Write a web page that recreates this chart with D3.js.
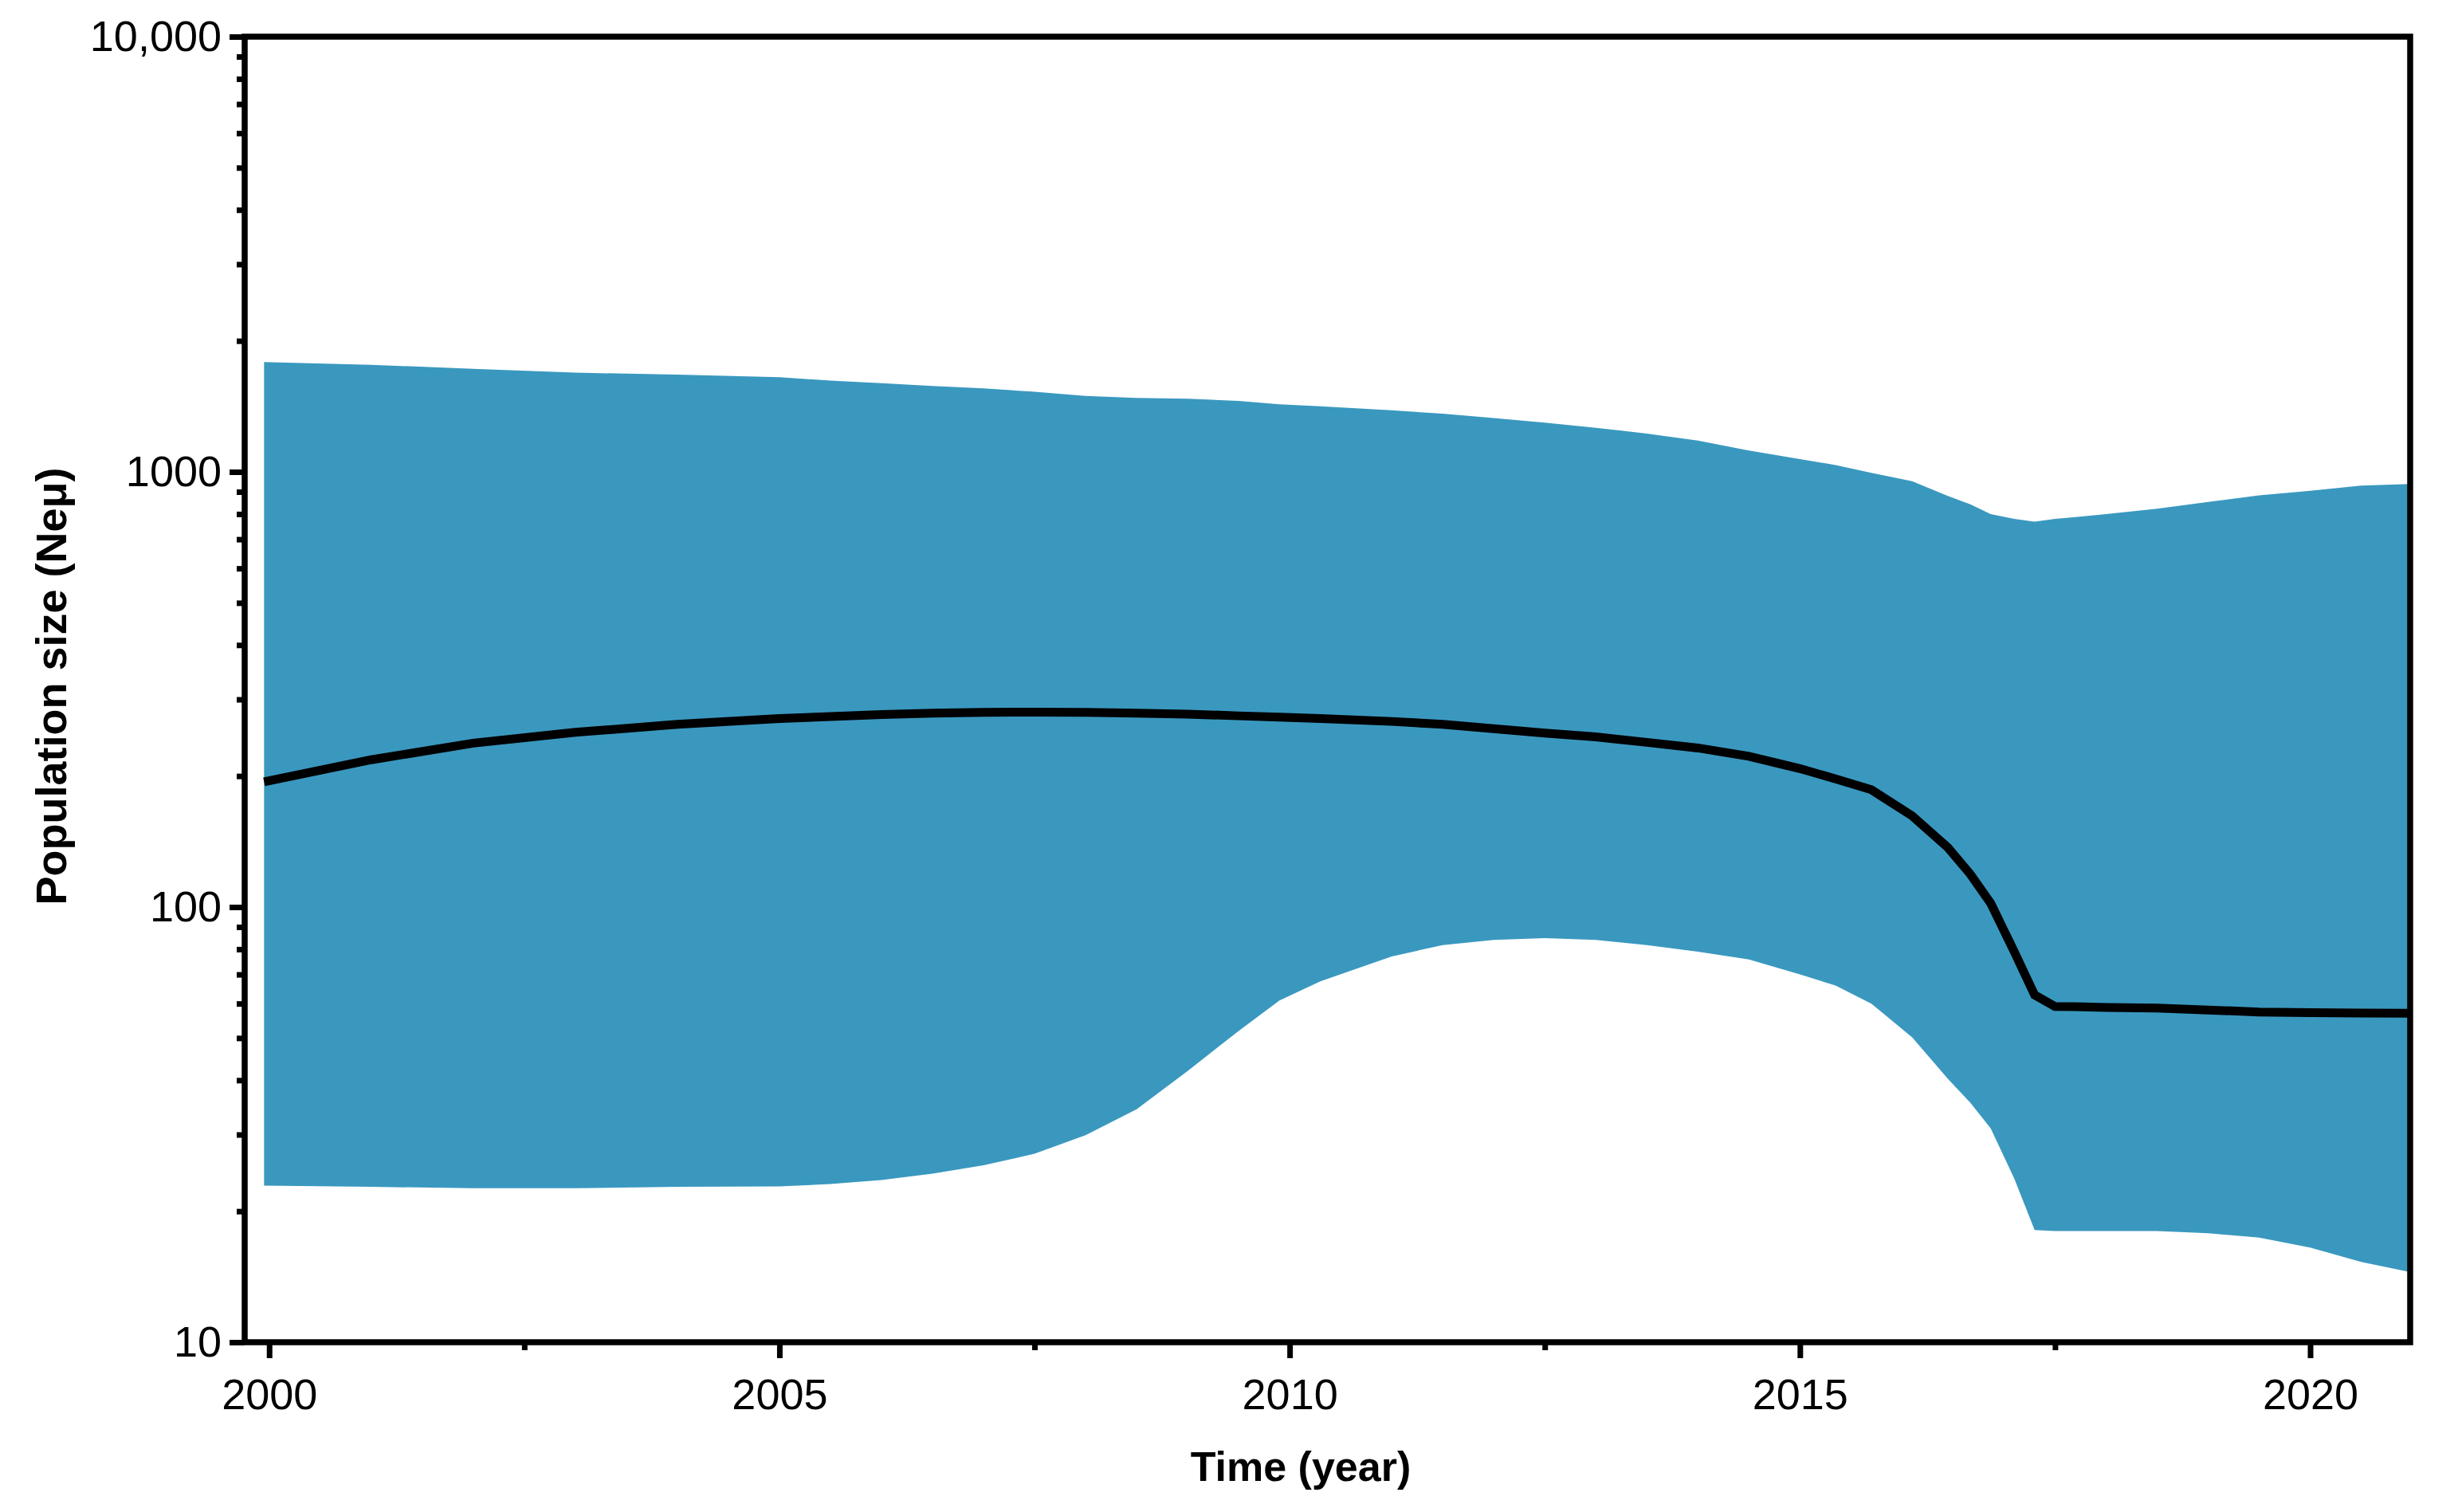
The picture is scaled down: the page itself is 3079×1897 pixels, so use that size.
<!DOCTYPE html>
<html>
<head>
<meta charset="utf-8">
<script src="https://cdn.jsdelivr.net/npm/d3@7"></script>
<style>
  html, body { margin: 0; padding: 0; background: #fff; }
  text { font-family: "Liberation Sans", Arial, sans-serif; fill: #000; }
</style>
</head>
<body>
<svg id="chart" width="3079" height="1897"></svg>
<script>
'use strict';

// time points (year) shared by every series
var years = [1999.95, 2001, 2002, 2003, 2004, 2005, 2005.5, 2006, 2006.5, 2007, 2007.5,
  2008, 2008.5, 2009, 2009.5, 2009.9, 2010.3, 2011, 2011.5, 2012, 2012.5, 2013, 2013.5,
  2014, 2014.5, 2015, 2015.35, 2015.7, 2016.1, 2016.45, 2016.67, 2016.87, 2017.1, 2017.3,
  2017.5, 2017.7, 2018, 2018.5, 2019, 2019.5, 2020, 2020.5, 2020.98];

// upper 95% HPD
var upper = [1787, 1762, 1725, 1690, 1672, 1650, 1620, 1598, 1575, 1555, 1527,
  1495, 1478, 1472, 1455, 1430, 1415, 1385, 1360, 1330, 1298, 1262, 1225,
  1180, 1120, 1070, 1037, 995, 952, 880, 842, 800, 780, 768,
  780, 787, 800, 823, 853, 883, 905, 930, 938];

// median
var median = [194, 218, 238, 252, 263, 271, 274, 277, 279, 280, 280.5,
  280, 279, 277.5, 275, 273, 271, 267, 263, 257, 251, 246, 239,
  232, 222, 208, 197, 186, 162, 137, 119, 102, 79, 62.8,
  59.1, 59.0, 58.8, 58.6, 58.0, 57.4, 57.2, 57.1, 57.0];

// lower 95% HPD
var lower = [22.9, 22.75, 22.6, 22.6, 22.75, 22.8, 23.1, 23.6, 24.4, 25.5, 27.1,
  29.9, 34.3, 42.0, 51.9, 61.0, 67.5, 77, 81.8, 84, 84.8, 84, 81.8,
  79, 75.8, 70, 66, 60, 50.2, 40.3, 35.5, 31.0, 23.8, 18.1,
  18.0, 18.0, 18.0, 18.0, 17.8, 17.4, 16.5, 15.3, 14.5];

var xMajorTicks = [2000, 2005, 2010, 2015, 2020],
    xMinorTicks = [2002.5, 2007.5, 2012.5, 2017.5],
    yMajorTicks = [10, 100, 1000, 10000],
    yTickLabels = ['10', '100', '1000', '10,000'];

var margin = { top: 46, right: 55, bottom: 213, left: 307 },
    width = 3079 - margin.left - margin.right,
    height = 1897 - margin.top - margin.bottom,
    bandColor = '#3a98bf',
    axisWidth = 7.5;

var svg = d3.select('#chart'),
    g = svg.append('g').attr('transform', 'translate(' + margin.left + ',' + margin.top + ')');

var x = d3.scaleLinear().domain([1999.76, 2020.98]).range([0, width]),
    y = d3.scaleLog().domain([10, 10000]).range([height, 0]);

var rows = years.map(function (d, i) {
  return { year: d, upper: upper[i], median: median[i], lower: lower[i] };
});

// minor log ticks 2..9 of each decade
var yMinorTicks = [];
yMajorTicks.slice(0, -1).forEach(function (d) {
  for (var k = 2; k < 10; k++) { yMinorTicks.push(d * k); }
});

var area = d3.area()
  .x(function (d) { return x(d.year); })
  .y0(function (d) { return y(d.lower); })
  .y1(function (d) { return y(d.upper); });

var line = d3.line()
  .x(function (d) { return x(d.year); })
  .y(function (d) { return y(d.median); });

g.append('path').datum(rows).attr('d', area).attr('fill', bandColor);

g.append('path').datum(rows).attr('d', line)
  .attr('fill', 'none').attr('stroke', '#000').attr('stroke-width', 11);

// axes
function styleAxis(sel) {
  sel.select('.domain').remove();
  sel.selectAll('.tick line').attr('stroke', '#000').attr('stroke-width', 7);
  sel.selectAll('.tick text').style('font-size', '54px');
}

g.append('g')
  .attr('transform', 'translate(0,' + height + ')')
  .call(d3.axisBottom(x).tickValues(xMinorTicks).tickSize(10).tickFormat(''))
  .call(styleAxis);

var xAxis = g.append('g')
  .attr('transform', 'translate(0,' + height + ')')
  .call(d3.axisBottom(x).tickValues(xMajorTicks).tickSize(20).tickFormat(d3.format('d')))
  .call(styleAxis);
xAxis.selectAll('.tick text').attr('y', 46);

g.append('g')
  .call(d3.axisLeft(y).tickValues(yMinorTicks).tickSize(10).tickFormat(''))
  .call(styleAxis);

var yAxis = g.append('g')
  .call(d3.axisLeft(y).tickValues(yMajorTicks).tickSize(19)
    .tickFormat(function (d) { return yTickLabels[yMajorTicks.indexOf(d)]; }))
  .call(styleAxis);
yAxis.selectAll('.tick text').attr('x', -29);

// frame
g.append('rect')
  .attr('width', width).attr('height', height)
  .attr('fill', 'none').attr('stroke', '#000').attr('stroke-width', axisWidth);

// axis titles
svg.append('text')
  .attr('x', 1632).attr('y', 1858)
  .attr('text-anchor', 'middle')
  .style('font-size', '52px').style('font-weight', 'bold')
  .text('Time (year)');

svg.append('text')
  .attr('transform', 'translate(83,861) rotate(-90)')
  .attr('text-anchor', 'middle')
  .style('font-size', '54px').style('font-weight', 'bold')
  .text('Population size (Neμ)');
</script>
</body>
</html>
